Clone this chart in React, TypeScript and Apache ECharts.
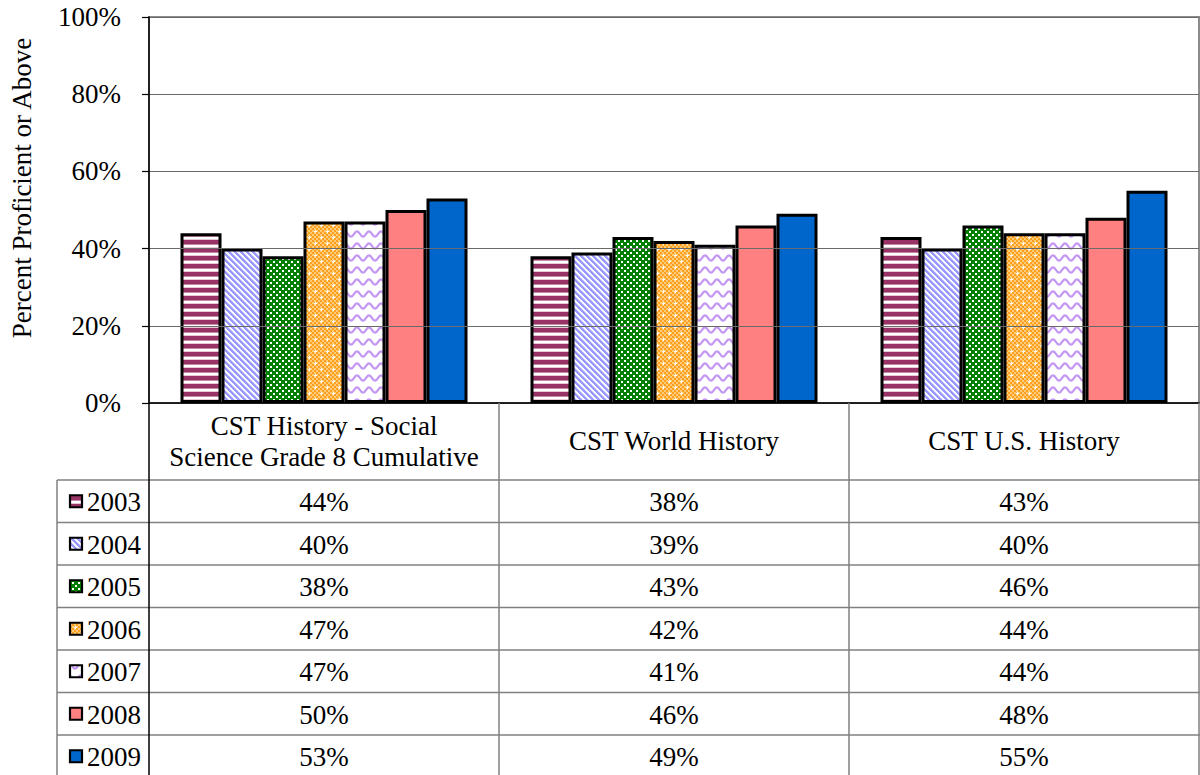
import React, { useEffect, useRef } from "react";
import * as echarts from "echarts";

const categories = [
  "CST History - Social\nScience Grade 8 Cumulative",
  "CST World History",
  "CST U.S. History",
];
const years = ["2003", "2004", "2005", "2006", "2007", "2008", "2009"];
const v2003 = [44, 38, 43];
const v2004 = [40, 39, 40];
const v2005 = [38, 43, 46];
const v2006 = [47, 42, 44];
const v2007 = [47, 41, 44];
const v2008 = [50, 46, 48];
const v2009 = [53, 49, 55];
const seriesValues = [v2003, v2004, v2005, v2006, v2007, v2008, v2009];
const yAxisTitle = "Percent Proficient or Above";

const FONT = '"Liberation Serif", "Times New Roman", serif';
const FS = 27;

function tile(w: number, h: number, draw: (ctx: CanvasRenderingContext2D) => void): any {
  const c = document.createElement("canvas");
  c.width = w;
  c.height = h;
  const ctx = c.getContext("2d") as CanvasRenderingContext2D;
  draw(ctx);
  return { image: c, repeat: "repeat", imageWidth: w, imageHeight: h };
}

function makeFills(): any[] {
  const stripes = tile(8, 8, (ctx) => {
    ctx.fillStyle = "#ffffff";
    ctx.fillRect(0, 0, 8, 8);
    ctx.fillStyle = "#993366";
    ctx.fillRect(0, 0, 8, 4);
    ctx.fillStyle = "#c28aa6";
    ctx.fillRect(0, 4, 8, 1);
    ctx.fillStyle = "#e6c8d6";
    ctx.fillRect(0, 7, 8, 1);
  });
  const diag = tile(6, 6, (ctx) => {
    for (let x = 0; x < 6; x++) {
      for (let y = 0; y < 6; y++) {
        const d = (x - y + 60) % 6;
        ctx.fillStyle = d <= 2 ? "#9999ff" : d === 3 ? "#d6d6ff" : "#ffffff";
        ctx.fillRect(x, y, 1, 1);
      }
    }
  });
  const checker = tile(6, 6, (ctx) => {
    ctx.fillStyle = "#008000";
    ctx.fillRect(0, 0, 6, 6);
    ctx.fillStyle = "#ffffff";
    ctx.fillRect(0, 0, 2, 2);
    ctx.fillRect(3, 3, 2, 2);
  });
  const confetti = tile(12, 12, (ctx) => {
    for (let x = 0; x < 12; x++) {
      for (let y = 0; y < 12; y++) {
        const a = (Math.floor(x / 2) + Math.floor(y / 2)) % 2 === 0;
        ctx.fillStyle = a ? "#ff9f1f" : "#ffcc77";
        ctx.fillRect(x, y, 1, 1);
      }
    }
    ctx.fillStyle = "#ffffff";
    const plus = (cx: number, cy: number) => {
      ctx.fillRect(cx - 1, cy, 3, 1);
      ctx.fillRect(cx, cy - 1, 1, 3);
    };
    plus(3, 3);
    plus(9, 9);
  });
  const wave = tile(12, 12, (ctx) => {
    ctx.fillStyle = "#ffffff";
    ctx.fillRect(0, 0, 12, 12);
    ctx.strokeStyle = "#c497f2";
    ctx.lineWidth = 2.2;
    ctx.beginPath();
    for (let x = -1; x <= 13; x += 0.5) {
      const y = 6 + 2.6 * Math.sin((2 * Math.PI * x) / 12);
      if (x === -1) ctx.moveTo(x, y);
      else ctx.lineTo(x, y);
    }
    ctx.stroke();
  });
  return [stripes, diag, checker, confetti, wave, "#ff8080", "#0066cc"];
}

const GRID_LEFT = 149;
const GRID_TOP = 17;
const GRID_BOTTOM_Y = 403;
const GRID_RIGHT_X = 1199;
const HEADER_BOTTOM = 480;
const ROW_H = 42.5;
const TABLE_LEFT = 57;
const PAGE_H = 775;

export default function App() {
  const ref = useRef<HTMLDivElement>(null);

  useEffect(() => {
    document.body.style.margin = "0";
    if (!ref.current) return;
    const chart = echarts.init(ref.current, null, { renderer: "svg" });
    const fills = makeFills();
    const catW = (GRID_RIGHT_X - GRID_LEFT) / categories.length;

    const lineColor = "#808080";
    const graphics: any[] = [];
    const addLine = (x1: number, y1: number, x2: number, y2: number, stroke = lineColor, lw = 1.5) => {
      graphics.push({
        type: "line",
        silent: true,
        z: 10,
        shape: { x1, y1, x2, y2 },
        style: { stroke, lineWidth: lw },
      });
    };
    const addText = (text: string, x: number, y: number, align: string, extra: any = {}) => {
      graphics.push({
        type: "text",
        silent: true,
        z: 11,
        x,
        y,
        ...extra,
        style: {
          text,
          font: `${FS}px ${FONT}`,
          fill: "#000",
          align,
          verticalAlign: "middle",
          textAlign: align,
          textVerticalAlign: "middle",
        },
      });
    };

    // y-axis title
    addText(yAxisTitle, 22, 188, "center", { rotation: Math.PI / 2 });

    // table grid lines
    for (let k = 0; k <= years.length; k++) {
      const y = HEADER_BOTTOM + k * ROW_H;
      addLine(TABLE_LEFT, y, GRID_RIGHT_X + 1, y);
    }
    addLine(TABLE_LEFT, HEADER_BOTTOM, TABLE_LEFT, PAGE_H);
    addLine(GRID_LEFT, GRID_BOTTOM_Y, GRID_LEFT, PAGE_H, "#000", 1.5);
    for (let i = 1; i < categories.length; i++) {
      const x = GRID_LEFT + i * catW;
      addLine(x, GRID_BOTTOM_Y, x, PAGE_H);
    }
    addLine(GRID_RIGHT_X, GRID_BOTTOM_Y, GRID_RIGHT_X, PAGE_H);

    // legend column + values
    years.forEach((yr, r) => {
      const cy = HEADER_BOTTOM + r * ROW_H + ROW_H / 2;
      graphics.push({
        type: "rect",
        silent: true,
        z: 11,
        shape: { x: 70, y: cy - 6, width: 12, height: 12 },
        style: { fill: fills[r], stroke: "#000", lineWidth: 2.2 },
      });
      addText(yr, 87, cy + 1, "left");
      seriesValues[r].forEach((v, c) => {
        addText(`${v}%`, GRID_LEFT + c * catW + catW / 2, cy + 1, "center");
      });
    });

    const option: any = {
      animation: false,
      backgroundColor: "#ffffff",
      grid: {
        left: GRID_LEFT,
        top: GRID_TOP,
        width: GRID_RIGHT_X - GRID_LEFT,
        height: GRID_BOTTOM_Y - GRID_TOP,
        show: true,
        borderColor: "#8c8c8c",
        borderWidth: 2,
        backgroundColor: "transparent",
      },
      xAxis: {
        type: "category",
        data: categories,
        axisLine: { show: true, lineStyle: { color: "#000", width: 1.5 } },
        axisTick: { show: false },
        axisLabel: {
          margin: 38,
          verticalAlign: "middle",
          lineHeight: 31,
          fontFamily: FONT,
          fontSize: FS,
          color: "#000",
          interval: 0,
        },
        z: 5,
      },
      yAxis: {
        type: "value",
        min: 0,
        max: 100,
        interval: 20,
        axisLine: { show: true, lineStyle: { color: "#000", width: 1.5 } },
        axisTick: { show: true, length: 7, lineStyle: { color: "#000", width: 1.2 } },
        axisLabel: {
          margin: 28,
          formatter: (v: number) => `${v}%`,
          fontFamily: FONT,
          fontSize: FS,
          color: "#000",
        },
        splitLine: { show: true, lineStyle: { color: "#6a6a6a", width: 1 } },
        z: 5,
      },
      series: years.map((yr, i) => ({
        name: yr,
        type: "bar",
        data: seriesValues[i],
        barGap: "0%",
        barCategoryGap: "18%",
        itemStyle: { color: fills[i], borderColor: "#000", borderWidth: 3 },
        emphasis: { disabled: true },
        z: 3,
      })),
      graphic: graphics,
    };
    chart.setOption(option);
    return () => chart.dispose();
  }, []);

  return <div ref={ref} style={{ width: 1200, height: 775 }} />;
}
